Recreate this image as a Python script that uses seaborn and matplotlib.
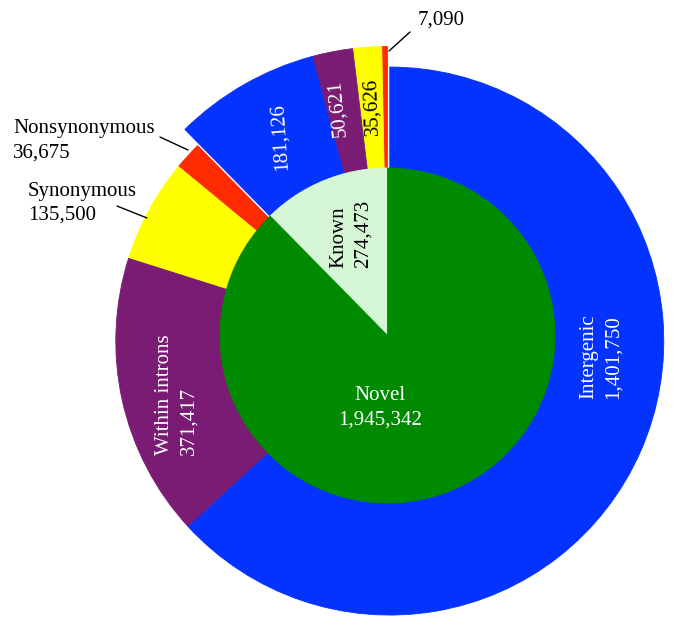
import matplotlib
matplotlib.use("Agg")
import matplotlib.pyplot as plt
import numpy as np
import seaborn as sns

sns.set_theme(style="white")
plt.rcParams["font.family"] = ["Liberation Serif", "DejaVu Serif"]

# inner ring: known vs novel variants
inner_labels = ["Known", "Novel"]
inner_values = [274473, 1945342]

# outer ring, per inner group, counter-clockwise from 12 o'clock
parts = ["Nonsynonymous", "Synonymous", "Within introns", "Intergenic"]
known_values = [7090, 35626, 50621, 181126]
novel_values = [36675, 135500, 371417, 1401750]

PART_COLORS = ["#FF2A00", "#FFFF00", "#7A1B74", "#0433FF"]
INNER_COLORS = ["#D5F7D5", "#008A00"]

W, H = 676, 631
CX, CY = 387.5, H - 335.5  # pie centre in pixel space (y up)
R_INNER = 167.5
R_KNOWN = 289
R_NOVEL = 274
NOVEL_SHIFT = 6


def px(x, y):
    """Image pixel (y down) to axes data (y up)."""
    return x, H - y


def seal(wedges):
    # hide antialiasing seams between neighbouring wedges
    for w in wedges:
        w.set_edgecolor(w.get_facecolor())
        w.set_linewidth(0.6)


def main():
    fig = plt.figure(figsize=(W / 100, H / 100), dpi=100)
    ax = fig.add_axes([0, 0, 1, 1])

    total = sum(inner_values)
    known_frac = inner_values[0] / total
    novel_start = 90 + known_frac * 360
    novel_mid = np.radians(novel_start + (1 - known_frac) * 180)
    novel_center = (
        CX + NOVEL_SHIFT * np.cos(novel_mid),
        CY + NOVEL_SHIFT * np.sin(novel_mid),
    )

    w1, _ = ax.pie(
        np.array(known_values) / total,
        radius=R_KNOWN,
        center=(CX, CY),
        startangle=90,
        colors=PART_COLORS,
        normalize=False,
    )
    w2, _ = ax.pie(
        np.array(novel_values) / total,
        radius=R_NOVEL,
        center=novel_center,
        startangle=novel_start,
        colors=PART_COLORS,
        normalize=False,
    )
    w3, _ = ax.pie(
        inner_values,
        radius=R_INNER,
        center=(CX, CY),
        startangle=90,
        colors=INNER_COLORS,
    )
    for group in (w1, w2, w3):
        seal(group)

    fs = 15
    ls = 1.4
    fmt = lambda v: f"{v:,}"
    rot = dict(rotation=90, ha="center", va="center", multialignment="left",
               fontsize=fs, linespacing=ls)

    # labels inside the rings
    ax.text(*px(601, 357), f"Intergenic\n{fmt(novel_values[3])}", color="white", **rot)
    ax.text(*px(177, 395), f"Within introns\n{fmt(novel_values[2])}", color="white", **rot)
    ax.text(*px(351, 234), f"{inner_labels[0]}\n{fmt(inner_values[0])}", color="black", **rot)
    ax.text(*px(380, 408), f"{inner_labels[1]}\n{fmt(inner_values[1])}", color="white",
            ha="center", va="center", fontsize=fs, linespacing=ls)
    ax.text(*px(280, 137), fmt(known_values[3]), color="white", rotation=94,
            ha="center", va="center", fontsize=fs)
    ax.text(*px(338, 108), fmt(known_values[2]), color="white", rotation=96,
            ha="center", va="center", fontsize=fs)
    ax.text(*px(372, 107), fmt(known_values[1]), color="black", rotation=92,
            ha="center", va="center", fontsize=fs)

    # outside labels with leader lines
    ax.text(*px(418, 20), fmt(known_values[0]), color="black",
            ha="left", va="center", fontsize=fs)
    ax.plot(*zip(px(389, 51), px(410, 32)), color="black", lw=1)

    ax.text(*px(13, 119), f"{parts[0]}\n{fmt(novel_values[0])}", color="black",
            ha="left", va="top", fontsize=fs, linespacing=ls)
    ax.plot(*zip(px(160, 137), px(188, 150)), color="black", lw=1)

    ax.text(*px(28, 182), f"{parts[1]}\n{fmt(novel_values[1])}", color="black",
            ha="left", va="top", fontsize=fs, linespacing=1.3)
    ax.plot(*zip(px(117, 206), px(147, 218)), color="black", lw=1)

    ax.set_xlim(0, W)
    ax.set_ylim(0, H)
    ax.set_aspect("equal")
    ax.axis("off")
    fig.savefig("out.png", dpi=100, facecolor="white")
    plt.close(fig)


if __name__ == "__main__":
    main()
